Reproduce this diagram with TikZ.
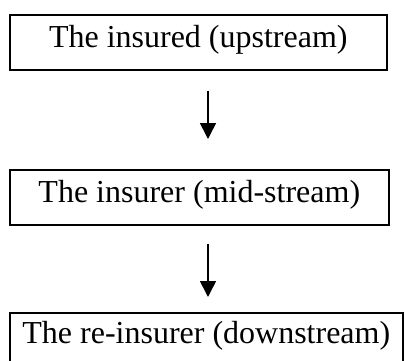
\documentclass[tikz,border=0pt]{standalone}
\usepackage{fontspec}
\setmainfont{Liberation Serif}
\usetikzlibrary{arrows.meta}
\begin{document}
\begin{tikzpicture}[x=1pt,y=-1pt,
  flowbox/.style={draw=black, line width=1.6pt, inner sep=0pt, anchor=north west,
    text height=33pt, text depth=22pt, font=\fontsize{32}{38}\selectfont},
  flowarrow/.style={line width=1.6pt, -{Triangle[width=16pt,length=16pt]}}]
\useasboundingbox (0,0) rectangle (405,360);
\clip (0,0) rectangle (405,360);
\node[flowbox, minimum width=377pt] (top) at (9,14) {The insured (upstream)};
\node[flowbox, minimum width=379pt] (mid) at (9,169) {The insurer (mid-stream)};
\node[flowbox, minimum width=393pt, text height=31pt, text depth=45pt] (bot) at (9,312) {The re-insurer (downstream)};
\coordinate (ax) at (208,0);
\draw[flowarrow, shorten <=20pt, shorten >=30pt] (top.south -| ax) -- (mid.north -| ax);
\draw[flowarrow, shorten <=18pt, shorten >=15pt] (mid.south -| ax) -- (bot.north -| ax);
\end{tikzpicture}
\end{document}
